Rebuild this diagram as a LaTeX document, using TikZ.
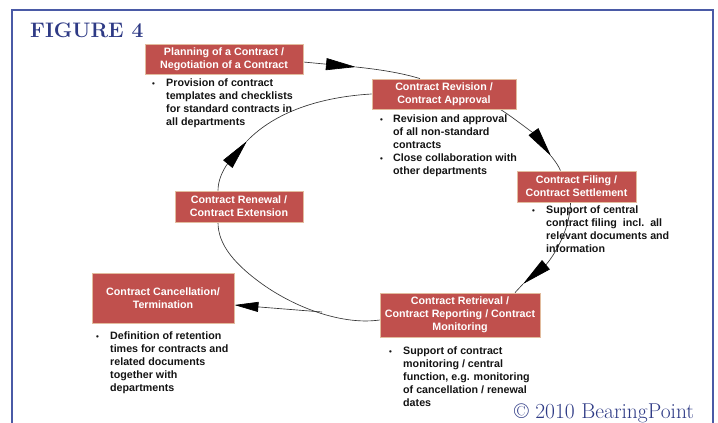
\documentclass[tikz,border=0pt]{standalone}
\usepackage{fontspec}
\newfontfamily\arial{Liberation Sans}
\usetikzlibrary{arrows.meta,backgrounds}
\definecolor{boxred}{HTML}{C0504D}
\definecolor{boxedge}{HTML}{E2BC9E}
\definecolor{figblue}{HTML}{2E3A85}
\definecolor{framebl}{HTML}{4A5AA6}
\definecolor{linegray}{HTML}{333333}
\newcommand{\bul}{{\fontsize{8}{8}\selectfont\textbullet}}
\begin{document}
\begin{tikzpicture}[x=1pt,y=-1pt,
  stagebox/.style={draw=boxedge, line width=0.8pt, fill=boxred, text=white,
    font=\arial\bfseries\fontsize{10.7}{13}\selectfont, align=center, inner sep=0pt},
  blist/.style={anchor=north west, inner sep=0pt, text=black!92,
    font=\arial\bfseries\fontsize{10.7}{13}\selectfont},
  conn/.style={draw=linegray, line width=0.65pt},
  bigarrow/.style={-{Triangle[length=30pt,width=12pt,black]}},
  smallarrow/.style={-{Triangle[length=24pt,width=10pt,black]}}
]
\useasboundingbox (0,0) rectangle (718,423);
\clip (0,0) rectangle (718,423);
\draw[framebl, line width=1.7pt] (12,10) rectangle (713,440);

\node[anchor=base west, inner sep=0pt, text=figblue, font=\fontsize{21}{24}\selectfont\bfseries] (title) at (30,37) {FIGURE 4};
\node[anchor=base west, inner sep=0pt, text=figblue, font=\fontsize{21.5}{24}\selectfont] (copy) at (514,418) {\textcopyright{} 2010 BearingPoint};

% stage boxes
\node[stagebox, minimum width=158pt, minimum height=30pt] (plan) at (224,59) {Planning of a Contract /\\Negotiation of a Contract};
\node[stagebox, minimum width=144pt, minimum height=30pt] (rev) at (444,94) {Contract Revision /\\Contract Approval};
\node[stagebox, minimum width=119pt, minimum height=31pt] (filing) at (576.5,186.5) {Contract Filing /\\Contract Settlement};
\node[stagebox, minimum width=160pt, minimum height=44pt] (retr) at (460,315) {Contract Retrieval /\\Contract Reporting / Contract\\Monitoring};
\node[stagebox, minimum width=142pt, minimum height=50pt] (cancel) at (163,298) {Contract Cancellation/\\Termination};
\node[stagebox, minimum width=128pt, minimum height=31pt] (renew) at (239,206.5) {Contract Renewal /\\Contract Extension};

% bullet texts
\node[blist] (planlist) at (152,77) {\begin{tabular}{@{}p{14pt}@{}l@{}}
\bul & Provision of contract\\
 & templates and checklists\\
 & for standard contracts in\\
 & all departments
\end{tabular}};
\node[blist] (revlist) at (380,113) {\begin{tabular}{@{}p{13pt}@{}l@{}}
\bul & Revision and approval\\
 & of all non-standard\\
 & contracts\\
\bul & Close collaboration with\\
 & other departments
\end{tabular}};
\node[blist] (filinglist) at (532,204) {\begin{tabular}{@{}p{14pt}@{}l@{}}
\bul & Support of central\\
 & contract filing\ \ incl.\ \ all\\
 & relevant documents and\\
 & information
\end{tabular}};
\node[blist] (cancellist) at (96,330) {\begin{tabular}{@{}p{14pt}@{}l@{}}
\bul & Definition of retention\\
 & times for contracts and\\
 & related documents\\
 & together with\\
 & departments
\end{tabular}};
\node[blist] (retrlist) at (389,345) {\begin{tabular}{@{}p{14pt}@{}l@{}}
\bul & Support of contract\\
 & monitoring / central\\
 & function, e.g. monitoring\\
 & of cancellation / renewal\\
 & dates
\end{tabular}};

% connectors
\coordinate (t1) at (356,67);
\coordinate (t2) at (551,156);
\coordinate (t3) at (523,284);
\coordinate (t5) at (247,141);
\coordinate (c6) at (322,312);
\begin{pgfonlayer}{background}
\draw[conn, bigarrow] ([yshift=-3pt]plan.east) -- (t1);
\draw[conn] (t1) .. controls (385,70) and (405,74) .. ([xshift=-24pt]rev.north);
\draw[conn, bigarrow] ([xshift=-16pt]rev.south east) .. controls (520,122) and (538,138) .. (t2);
\draw[conn] (t2) .. controls (556,162) and (559,167) .. ([xshift=-16pt]filing.north);
\draw[conn, bigarrow] ([xshift=-6pt]filing.south) .. controls (570,235) and (548,263) .. (t3);
\draw[conn] (t3) -- ([xshift=55pt]retr.north);
\draw[conn] ([yshift=-5pt]retr.west) .. controls (345,325) and (300,310) .. (265,286)
   .. controls (235,265) and (218,245) .. ([xshift=-21pt]renew.south);
\draw[conn, bigarrow] ([xshift=-21pt]renew.north) .. controls (218,170) and (237,153) .. (t5);
\draw[conn] (t5) .. controls (275,112) and (320,97) .. (rev.west);
\draw[conn, smallarrow] (c6) -- ([yshift=-7pt]cancel.east);
\end{pgfonlayer}
\end{tikzpicture}
\end{document}
